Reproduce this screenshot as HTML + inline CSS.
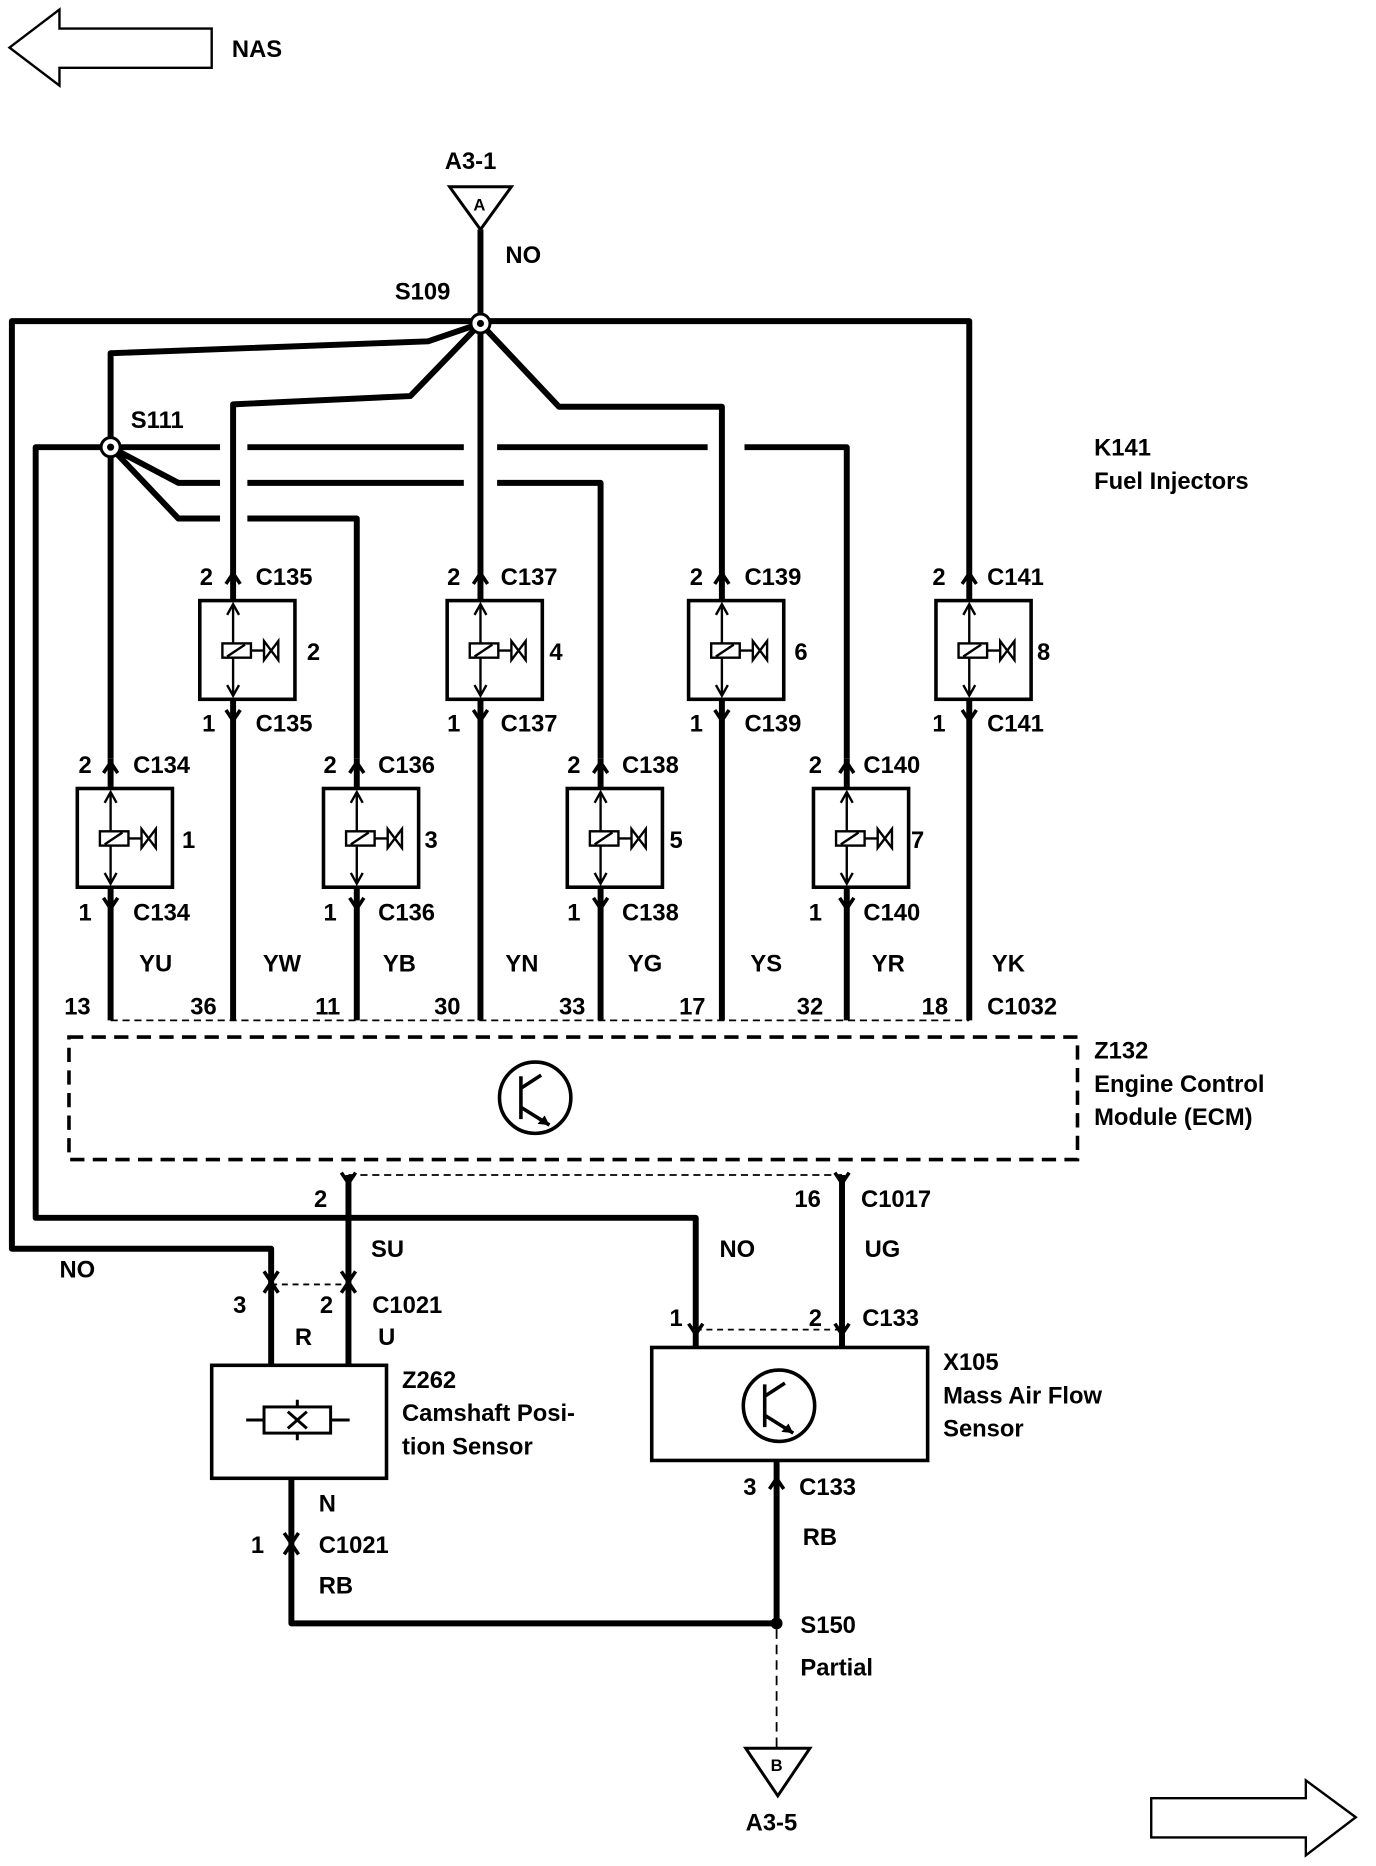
<!DOCTYPE html>
<html><head><meta charset="utf-8"><style>
html,body{margin:0;padding:0;background:#fff}
svg{display:block}
text{font-family:"Liberation Sans",sans-serif;font-weight:bold;font-size:20px;fill:#000}
</style></head><body>
<svg width="1376" height="1866" viewBox="0 0 1157 1569" preserveAspectRatio="none" xmlns="http://www.w3.org/2000/svg">
<defs>
<g id="inj">
<rect x="-28" y="0" width="80" height="83" fill="#fff" stroke="#000" stroke-width="3"/>
<line x1="0" y1="5" x2="0" y2="78" stroke="#000" stroke-width="2"/>
<path d="M-5 12 L0 3 L5 12 M-5 71 L0 80 L5 71" fill="none" stroke="#000" stroke-width="2"/>
<rect x="-9" y="36" width="24" height="12" fill="#fff" stroke="#000" stroke-width="2"/>
<line x1="-5" y1="47" x2="10" y2="37" stroke="#000" stroke-width="2"/>
<line x1="15" y1="42" x2="26" y2="42" stroke="#000" stroke-width="2"/>
<path d="M26 34 L38 50 L38 34 L26 50 Z" fill="none" stroke="#000" stroke-width="2"/>
</g>
<path id="pt" d="M-6 7 L0 -2 L6 7" fill="none" stroke="#000" stroke-width="3"/>
<path id="pb" d="M-6 -7 L0 2 L6 -7" fill="none" stroke="#000" stroke-width="3"/>
</defs>

<path d="M8 40 L50 8 L50 24 L178 24 L178 57 L50 57 L50 72 Z" fill="#fff" stroke="#000" stroke-width="2"/>
<text x="195" y="48">NAS</text>
<path d="M1140 1528 L1098 1497 L1098 1512 L968 1512 L968 1545 L1098 1545 L1098 1560 Z" fill="#fff" stroke="#000" stroke-width="2"/>

<text x="374" y="142">A3-1</text>
<path d="M378 157 L430 157 L404 193 Z" fill="#fff" stroke="#000" stroke-width="2.5"/>
<text x="398" y="177" style="font-size:14px">A</text>
<text x="425" y="221">NO</text>
<text x="332" y="252">S109</text>
<text x="110" y="360">S111</text>
<text x="920" y="383">K141</text>
<text x="920" y="411">Fuel Injectors</text>

<g fill="none" stroke="#000" stroke-width="5" stroke-linejoin="round">
<line x1="404" y1="193" x2="404" y2="272"/>
<path d="M404 270 L10 270 L10 1050 L228 1050 L228 1080"/>
<path d="M404 270 L815 270 L815 478"/>
<path d="M404 272 L360 287 L93 297 L93 638"/>
<path d="M404 272 L345 333 L196 340 L196 478"/>
<line x1="404" y1="272" x2="404" y2="478"/>
<path d="M404 272 L470 342 L607 342 L607 478"/>
<path d="M93 376 L30 376 L30 1024 L585 1024 L585 1118"/>
<path d="M93 376 L185 376 M208 376 L390 376 M418 376 L595 376 M626 376 L712 376 L712 638"/>
<path d="M93 376 L150 406 L185 406 M208 406 L390 406 M418 406 L505 406 L505 638"/>
<path d="M93 376 L150 436 L185 436 M208 436 L300 436 L300 638"/>
<line x1="196" y1="602" x2="196" y2="858"/>
<line x1="404" y1="602" x2="404" y2="858"/>
<line x1="607" y1="602" x2="607" y2="858"/>
<line x1="815" y1="602" x2="815" y2="858"/>
<line x1="93" y1="760" x2="93" y2="858"/>
<line x1="300" y1="760" x2="300" y2="858"/>
<line x1="505" y1="760" x2="505" y2="858"/>
<line x1="712" y1="760" x2="712" y2="858"/>
<line x1="293" y1="988" x2="293" y2="1148"/>
<line x1="228" y1="1080" x2="228" y2="1148"/>
<line x1="708" y1="988" x2="708" y2="1133"/>
<line x1="585" y1="1118" x2="585" y2="1133"/>
<path d="M245 1243 L245 1365 L653 1365"/>
<line x1="653" y1="1228" x2="653" y2="1365"/>
</g>

<circle cx="404" cy="272" r="8" fill="#fff" stroke="#000" stroke-width="2.5"/>
<circle cx="404" cy="272" r="3" fill="#000"/>
<circle cx="93" cy="376" r="8" fill="#fff" stroke="#000" stroke-width="2.5"/>
<circle cx="93" cy="376" r="3" fill="#000"/>
<circle cx="653" cy="1365" r="5" fill="#000"/>

<use href="#inj" x="196" y="505"/><use href="#inj" x="404" y="505"/><use href="#inj" x="607" y="505"/><use href="#inj" x="815" y="505"/>
<use href="#inj" x="93" y="663"/><use href="#inj" x="300" y="663"/><use href="#inj" x="505" y="663"/><use href="#inj" x="712" y="663"/>
<g stroke="#000" stroke-width="5">
<line x1="196" y1="478" x2="196" y2="505"/><line x1="404" y1="478" x2="404" y2="505"/><line x1="607" y1="478" x2="607" y2="505"/><line x1="815" y1="478" x2="815" y2="505"/>
<line x1="196" y1="588" x2="196" y2="604"/><line x1="404" y1="588" x2="404" y2="604"/><line x1="607" y1="588" x2="607" y2="604"/><line x1="815" y1="588" x2="815" y2="604"/>
<line x1="93" y1="638" x2="93" y2="663"/><line x1="300" y1="638" x2="300" y2="663"/><line x1="505" y1="638" x2="505" y2="663"/><line x1="712" y1="638" x2="712" y2="663"/>
<line x1="93" y1="746" x2="93" y2="762"/><line x1="300" y1="746" x2="300" y2="762"/><line x1="505" y1="746" x2="505" y2="762"/><line x1="712" y1="746" x2="712" y2="762"/>
</g>
<g>
<use href="#pt" x="196" y="484"/><use href="#pt" x="404" y="484"/><use href="#pt" x="607" y="484"/><use href="#pt" x="815" y="484"/>
<use href="#pb" x="196" y="604"/><use href="#pb" x="404" y="604"/><use href="#pb" x="607" y="604"/><use href="#pb" x="815" y="604"/>
<use href="#pt" x="93" y="643"/><use href="#pt" x="300" y="643"/><use href="#pt" x="505" y="643"/><use href="#pt" x="712" y="643"/>
<use href="#pb" x="93" y="762"/><use href="#pb" x="300" y="762"/><use href="#pb" x="505" y="762"/><use href="#pb" x="712" y="762"/>
</g>
<text x="168" y="492">2</text><text x="215" y="492">C135</text>
<text x="376" y="492">2</text><text x="421" y="492">C137</text>
<text x="580" y="492">2</text><text x="626" y="492">C139</text>
<text x="784" y="492">2</text><text x="830" y="492">C141</text>
<text x="258" y="555">2</text><text x="462" y="555">4</text><text x="668" y="555">6</text><text x="872" y="555">8</text>
<text x="170" y="615">1</text><text x="215" y="615">C135</text>
<text x="376" y="615">1</text><text x="421" y="615">C137</text>
<text x="580" y="615">1</text><text x="626" y="615">C139</text>
<text x="784" y="615">1</text><text x="830" y="615">C141</text>
<text x="66" y="650">2</text><text x="112" y="650">C134</text>
<text x="272" y="650">2</text><text x="318" y="650">C136</text>
<text x="477" y="650">2</text><text x="523" y="650">C138</text>
<text x="680" y="650">2</text><text x="726" y="650">C140</text>
<text x="153" y="713">1</text><text x="357" y="713">3</text><text x="563" y="713">5</text><text x="766" y="713">7</text>
<text x="66" y="774">1</text><text x="112" y="774">C134</text>
<text x="272" y="774">1</text><text x="318" y="774">C136</text>
<text x="477" y="774">1</text><text x="523" y="774">C138</text>
<text x="680" y="774">1</text><text x="726" y="774">C140</text>
<text x="117" y="817">YU</text><text x="221" y="817">YW</text><text x="322" y="817">YB</text><text x="425" y="817">YN</text>
<text x="528" y="817">YG</text><text x="631" y="817">YS</text><text x="733" y="817">YR</text><text x="834" y="817">YK</text>
<text x="54" y="853">13</text><text x="160" y="853">36</text><text x="265" y="853">11</text><text x="365" y="853">30</text>
<text x="470" y="853">33</text><text x="571" y="853">17</text><text x="670" y="853">32</text><text x="775" y="853">18</text>
<text x="830" y="853">C1032</text>

<line x1="93" y1="858" x2="815" y2="858" stroke="#000" stroke-width="1.5" stroke-dasharray="6,4"/>
<rect x="58" y="872" width="848" height="103" fill="none" stroke="#000" stroke-width="3" stroke-dasharray="12,7"/>
<circle cx="450" cy="923" r="30" fill="none" stroke="#000" stroke-width="3"/>
<path d="M438 905 L438 941 M438 915 L455 904 M438 931 L462 946" fill="none" stroke="#000" stroke-width="3"/>
<path d="M462 946 L452 945 L458 938 Z" fill="#000"/>
<text x="920" y="890">Z132</text>
<text x="920" y="918">Engine Control</text>
<text x="920" y="946">Module (ECM)</text>

<line x1="293" y1="988" x2="708" y2="988" stroke="#000" stroke-width="1.5" stroke-dasharray="6,4"/>
<use href="#pb" x="293" y="993"/><use href="#pb" x="708" y="993"/>
<text x="264" y="1015">2</text><text x="668" y="1015">16</text><text x="724" y="1015">C1017</text>
<text x="312" y="1057">SU</text><text x="605" y="1057">NO</text><text x="727" y="1057">UG</text><text x="50" y="1074">NO</text>

<line x1="228" y1="1080" x2="293" y2="1080" stroke="#000" stroke-width="1.5" stroke-dasharray="5,4"/>
<use href="#pb" x="228" y="1076"/><use href="#pt" x="228" y="1080"/>
<use href="#pb" x="293" y="1076"/><use href="#pt" x="293" y="1080"/>
<text x="196" y="1104">3</text><text x="269" y="1104">2</text><text x="313" y="1104">C1021</text>
<text x="248" y="1131">R</text><text x="318" y="1131">U</text>

<rect x="178" y="1148" width="147" height="95" fill="#fff" stroke="#000" stroke-width="3"/>
<rect x="222" y="1183" width="56" height="22" fill="none" stroke="#000" stroke-width="2.5"/>
<path d="M207 1194 L222 1194 M278 1194 L294 1194 M250 1177 L250 1183 M250 1205 L250 1211 M242 1187 L258 1201 M258 1187 L242 1201" stroke="#000" stroke-width="2.5"/>
<text x="338" y="1167">Z262</text>
<text x="338" y="1195">Camshaft Posi-</text>
<text x="338" y="1223">tion Sensor</text>
<text x="268" y="1271">N</text>
<use href="#pb" x="245" y="1296"/><use href="#pt" x="245" y="1300"/>
<text x="211" y="1306">1</text><text x="268" y="1306">C1021</text>
<text x="268" y="1340">RB</text>

<line x1="585" y1="1118" x2="708" y2="1118" stroke="#000" stroke-width="1.5" stroke-dasharray="5,4"/>
<use href="#pb" x="585" y="1120"/><use href="#pb" x="708" y="1120"/>
<text x="563" y="1115">1</text><text x="680" y="1115">2</text><text x="725" y="1115">C133</text>
<rect x="548" y="1133" width="232" height="95" fill="#fff" stroke="#000" stroke-width="3"/>
<circle cx="655" cy="1182" r="30" fill="none" stroke="#000" stroke-width="3"/>
<path d="M643 1164 L643 1200 M643 1174 L660 1163 M643 1190 L667 1205" fill="none" stroke="#000" stroke-width="3"/>
<path d="M667 1205 L657 1204 L663 1197 Z" fill="#000"/>
<text x="793" y="1152">X105</text>
<text x="793" y="1180">Mass Air Flow</text>
<text x="793" y="1208">Sensor</text>
<use href="#pt" x="653" y="1245"/>
<text x="625" y="1257">3</text><text x="672" y="1257">C133</text>
<text x="675" y="1299">RB</text>
<text x="673" y="1373">S150</text>
<text x="673" y="1409">Partial</text>
<line x1="653" y1="1370" x2="653" y2="1470" stroke="#000" stroke-width="1.5" stroke-dasharray="8,5"/>
<path d="M627 1470 L681 1470 L654 1510 Z" fill="#fff" stroke="#000" stroke-width="2.5"/>
<text x="648" y="1489" style="font-size:14px">B</text>
<text x="627" y="1539">A3-5</text>
</svg>
</body></html>
